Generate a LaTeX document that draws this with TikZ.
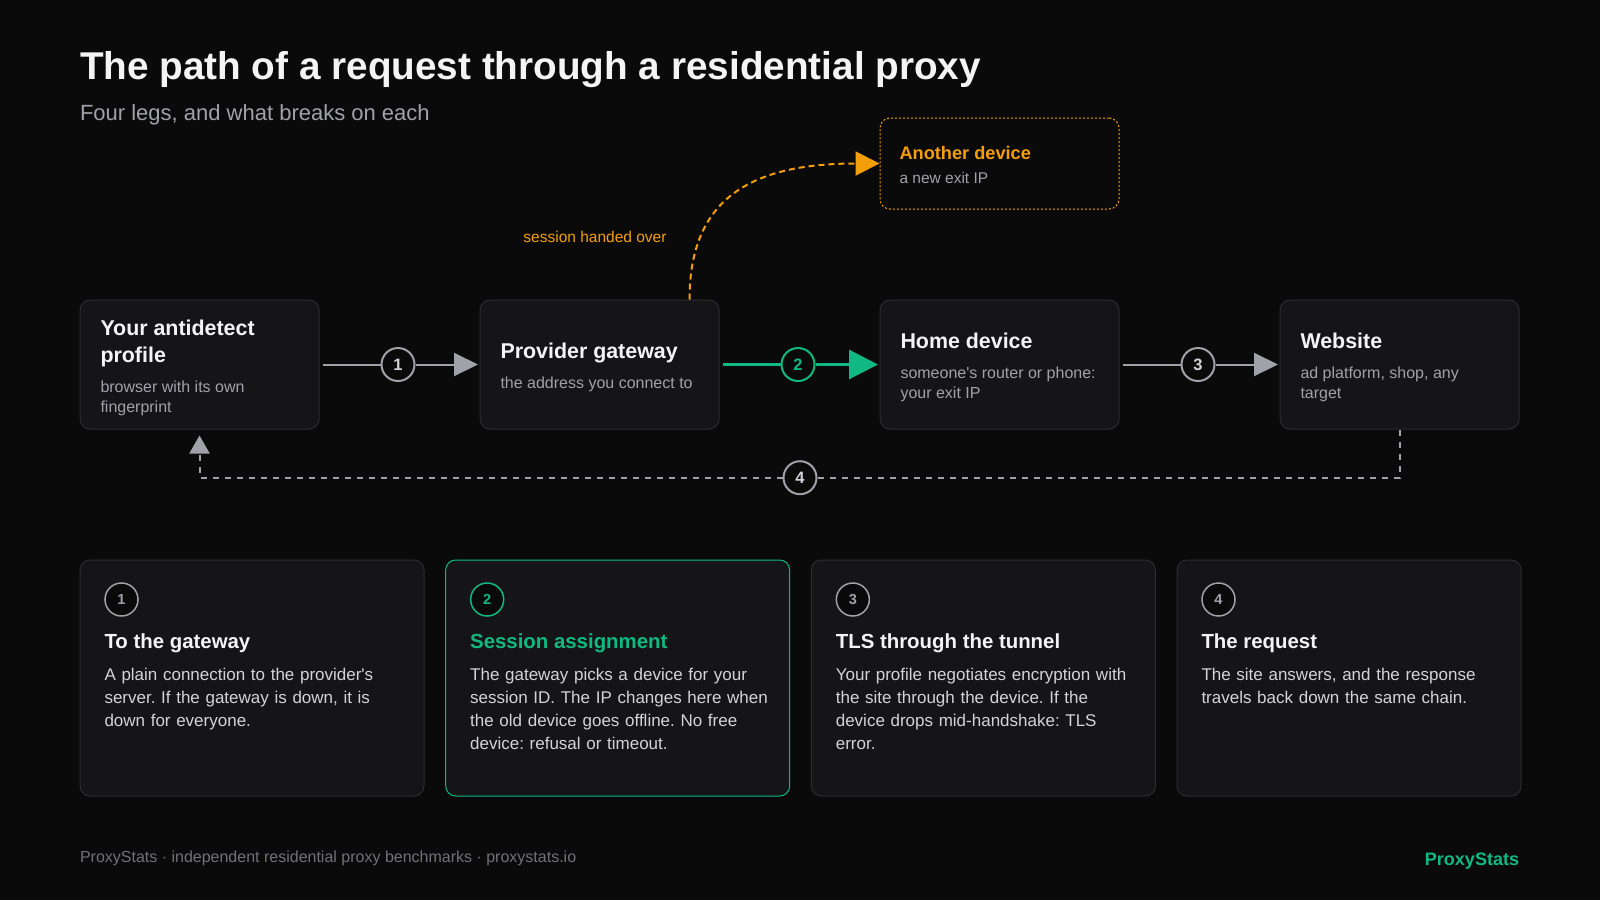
\documentclass[tikz,border=0pt]{standalone}
\usepackage{fontspec}
\setmainfont{Liberation Sans}
\usetikzlibrary{arrows.meta}
\frenchspacing

\definecolor{bg}{HTML}{0A0A0B}
\definecolor{boxfill}{HTML}{151518}
\definecolor{boxline}{HTML}{2C2C31}
\definecolor{ink}{HTML}{F4F4F5}
\definecolor{sub}{HTML}{A1A1AA}
\definecolor{body}{HTML}{D4D4D8}
\definecolor{linegray}{HTML}{A1A1AA}
\definecolor{mint}{HTML}{10B981}
\definecolor{amber}{HTML}{F59E0B}
\definecolor{foot}{HTML}{71717A}

\newcommand{\stagetext}[2]{%
	\spaceskip = 0pt \xspaceskip = 0pt%
	{\fontsize{21.4}{27}\selectfont\bfseries\color{ink}#1\par}%
	\vspace{10pt}%
	{\fontsize{16}{20}\selectfont\color{sub}#2\par}}

\newcommand{\sparetext}[2]{%
	\spaceskip = 0pt \xspaceskip = 0pt%
	{\fontsize{18.2}{20}\selectfont\bfseries\color{amber}#1\par}%
	\vspace{5pt}%
	{\fontsize{15.5}{19}\selectfont\color{sub}#2\par}}

\begin{document}
\begin{tikzpicture}[
	x = 1pt, y = -1pt,
	> = {Triangle[length = 24pt, width = 23pt]},
	plain/.style = {inner sep = 0pt, outer sep = 0pt},
	stage/.style = {draw = boxline, fill = boxfill, line width = 1pt, rounded corners = 10pt, minimum width = 239pt, minimum height = 129pt, inner sep = 0pt},
	stagetxt/.style = {plain, anchor = west, text width = 215pt, align = left},
	spare/.style = {draw = amber, dash pattern = on 2pt off 2pt, line width = 1pt, rounded corners = 10pt, minimum width = 239pt, minimum height = 91pt, inner sep = 0pt},
	legnum/.style = {circle, draw = linegray, line width = 2pt, fill = bg, minimum size = 33pt, inner sep = 0pt, text = body, font = \fontsize{16.5}{16.5}\selectfont\bfseries},
	wire/.style = {draw = linegray, line width = 2pt},
	handover/.style = {draw = amber, line width = 2pt, dash pattern = on 6pt off 4pt, -{Triangle[length = 24pt, width = 24pt]}},
	card/.style = {draw = boxline, fill = boxfill, line width = 1pt, rounded corners = 10pt, minimum width = 344pt, minimum height = 236pt, inner sep = 0pt},
	cardhead/.style = {plain, anchor = base west, font = \fontsize{20.4}{24}\selectfont\bfseries},
	cardbody/.style = {plain, anchor = base west, text width = 312pt, align = left, text = body, font = \fontsize{17}{23}\selectfont}
]

	% Background + heading

	\fill [bg] (0, 0) rectangle (1600, 900);

	\node [plain, anchor = base west, text = ink, font = \fontsize{38.7}{46}\selectfont\bfseries] (title) at (80, 79) {The path of a request through a residential proxy};
	\node [plain, anchor = base west, text = sub, font = \fontsize{22}{26}\selectfont] (subtitle) at (80, 120.7) {Four legs, and what breaks on each};

	% Stages

	\node [stage] (prof) at (199.5, 364.5) {};
	\node [stage] (gate) at (599.5, 364.5) {};
	\node [stage] (home) at (999.5, 364.5) {};
	\node [stage] (web) at (1399.5, 364.5) {};
	\node [spare] (other) at (999.5, 163.5) {};

	\node [stagetxt] (prof-txt) at ([xshift = 21pt, yshift = -3pt] prof.west) {\stagetext{Your antidetect\\profile}{browser with its own\\fingerprint}};
	\node [stagetxt] (gate-txt) at ([xshift = 21pt, yshift = -3pt] gate.west) {\stagetext{Provider gateway}{the address you connect to}};
	\node [stagetxt] (home-txt) at ([xshift = 21pt, yshift = -3pt] home.west) {\stagetext{Home device}{someone\textquotesingle s router or phone:\\your exit IP}};
	\node [stagetxt] (web-txt) at ([xshift = 21pt, yshift = -3pt] web.west) {\stagetext{Website}{ad platform, shop, any\\target}};
	\node [stagetxt] (other-txt) at ([xshift = 20pt, yshift = -1pt] other.west) {\sparetext{Another device}{a new exit IP}};

	% Legs

	\node [legnum] (n1) at (398, 364.5) {1};
	\node [legnum, draw = mint, text = mint] (n2) at (798, 364.5) {2};
	\node [legnum] (n3) at (1198, 364.5) {3};
	\node [legnum] (n4) at (800, 477.7) {4};

	\draw [wire] ([xshift = 3pt] prof.east) -- (n1);
	\draw [wire, ->, shorten > = 1.5pt] (n1) -- (gate);
	\draw [wire, draw = mint, line width = 3pt] ([xshift = 3pt] gate.east) -- (n2);
	\draw [wire, draw = mint, line width = 3pt, -{Triangle[length = 29pt, width = 29pt]}, shorten > = 1.5pt] (n2) -- (home);
	\draw [wire] ([xshift = 3pt] home.east) -- (n3);
	\draw [wire, ->, shorten > = 1.5pt] (n3) -- (web);

	\draw [wire, dash pattern = on 6pt off 6pt] (web.south) |- (n4);
	\draw [wire, dash pattern = on 6pt off 6pt, -{Triangle[length = 18pt, width = 20pt]}, shorten > = 6pt] (n4) -| (prof.south);

	% Hand-over to another device

	\draw [handover] ([xshift = 90pt] gate.north) .. controls +(0, -100) and +(-130, 0) .. (other.west);
	\node [plain, anchor = base, text = amber, font = \fontsize{15.5}{18}\selectfont] (handed) at (595, 242.7) {session handed over};

	% Cards

	\foreach \n/\x/\edge/\ring/\headcol/\head/\body in {
		1/80/boxline/linegray/ink/{To the gateway}/{A plain connection to the provider\textquotesingle s\\server. If the gateway is down, it is\\down for everyone.},
		2/445.67/mint/mint/mint/{Session assignment}/{The gateway picks a device for your\\session ID. The IP changes here when\\the old device goes offline. No free\\device: refusal or timeout.},
		3/811.33/boxline/linegray/ink/{TLS through the tunnel}/{Your profile negotiates encryption with\\the site through the device. If the\\device drops mid-handshake: TLS\\error.},
		4/1177/boxline/linegray/ink/{The request}/{The site answers, and the response\\travels back down the same chain.}}
	{
		\node [card, draw = \edge] (card\n) at (\x + 172, 678) {};
		\node [legnum, line width = 1.5pt, draw = \ring, text = \ring, font = \fontsize{14.5}{14.5}\selectfont\bfseries] (card\n-num) at ([xshift = 42pt, yshift = -40pt] card\n.north west) {\n};
		\node [cardhead, text = \headcol] (card\n-head) at ([xshift = 25pt, yshift = -89pt] card\n.north west) {\head};
		\node [cardbody] (card\n-body) at ([xshift = 25pt, yshift = -121pt] card\n.north west) {\body};
	}

	% Footer

	\node [plain, anchor = base west, text = foot, font = \fontsize{16}{18}\selectfont] (foot) at (80, 862) {ProxyStats · independent residential proxy benchmarks · proxystats.io};
	\node [plain, anchor = base east, text = mint, font = \fontsize{18}{20}\selectfont\bfseries] (brand) at (1519, 865) {ProxyStats};

\end{tikzpicture}
\end{document}
